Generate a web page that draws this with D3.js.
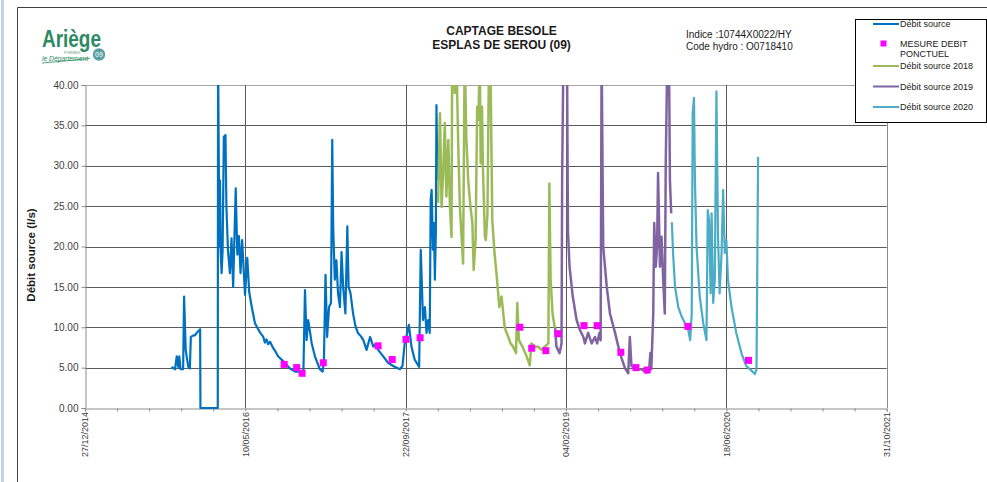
<!DOCTYPE html>
<html>
<head>
<meta charset="utf-8">
<script src="https://cdn.jsdelivr.net/npm/d3@7"></script>
<style>
body { margin: 0; background: #fff; }
svg text { font-family: "Liberation Sans", Arial, sans-serif; }
</style>
</head>
<body>
<svg id="chart" width="987" height="482"></svg>
<script>
// axis range and ticks
const xStart = "2014-12-27", xEnd = "2021-10-31";
const xTickDates = ["2014-12-27", "2016-05-10", "2017-09-22", "2019-02-04", "2020-06-18", "2021-10-31"];
const yTicks = [0, 5, 10, 15, 20, 25, 30, 35, 40];

// Débit source (l/s) - values above 40 leave the plot at the top
const debitSource = [
  ["2015-09-23", 5.1], ["2015-10-04", 4.8], ["2015-10-09", 6.4], ["2015-10-14", 5.1], ["2015-10-17", 6.4],
  ["2015-10-21", 4.8], ["2015-10-29", 4.8], ["2015-11-01", 13.8], ["2015-11-06", 7.2], ["2015-11-14", 5.1],
  ["2015-11-19", 4.9], ["2015-11-22", 8.8], ["2015-11-30", 9.0], ["2015-12-05", 9.0], ["2015-12-10", 9.3],
  ["2015-12-21", 9.75], ["2015-12-22", 0], ["2016-02-14", 0], ["2016-02-15", 44], ["2016-02-19", 20.0],
  ["2016-02-21", 28.2], ["2016-02-23", 19.4], ["2016-02-26", 16.7], ["2016-02-29", 19.4], ["2016-03-04", 33.6],
  ["2016-03-09", 33.8], ["2016-03-12", 24.9], ["2016-03-17", 19.4], ["2016-03-23", 16.7], ["2016-03-28", 21.0],
  ["2016-04-02", 15.0], ["2016-04-10", 27.2], ["2016-04-15", 19.0], ["2016-04-20", 21.3], ["2016-04-25", 16.7],
  ["2016-04-30", 20.8], ["2016-05-09", 14.0], ["2016-05-16", 18.6], ["2016-05-22", 14.4], ["2016-05-30", 12.5],
  ["2016-06-09", 10.5], ["2016-06-17", 9.9], ["2016-06-24", 9.4], ["2016-07-05", 8.8], ["2016-07-10", 8.1],
  ["2016-07-15", 8.5], ["2016-07-20", 7.9], ["2016-07-26", 8.2], ["2016-08-05", 7.4], ["2016-08-12", 7.0],
  ["2016-08-20", 6.4], ["2016-09-05", 5.8], ["2016-09-26", 4.9], ["2016-10-12", 4.5], ["2016-10-27", 4.5],
  ["2016-11-07", 4.3], ["2016-11-12", 14.6], ["2016-11-17", 8.4], ["2016-11-22", 10.9], ["2016-12-03", 8.0],
  ["2016-12-13", 6.4], ["2016-12-28", 4.8], ["2017-01-06", 4.5], ["2017-01-10", 5.8], ["2017-01-15", 16.5],
  ["2017-01-20", 8.8], ["2017-01-26", 12.5], ["2017-02-01", 13.0], ["2017-02-05", 33.2], ["2017-02-08", 22.3],
  ["2017-02-13", 15.9], ["2017-02-18", 18.3], ["2017-02-23", 14.2], ["2017-03-01", 12.5], ["2017-03-06", 19.3],
  ["2017-03-11", 15.0], ["2017-03-18", 11.7], ["2017-03-24", 22.5], ["2017-03-28", 15.0], ["2017-04-03", 14.2],
  ["2017-04-11", 11.7], ["2017-04-18", 10.2], ["2017-04-26", 9.3], ["2017-05-05", 8.9], ["2017-05-13", 8.4],
  ["2017-05-23", 7.2], ["2017-06-03", 8.8], ["2017-06-13", 7.6], ["2017-06-20", 7.9], ["2017-06-28", 7.2],
  ["2017-07-06", 6.8], ["2017-07-14", 6.4], ["2017-07-29", 5.6], ["2017-08-14", 5.2], ["2017-09-04", 4.8],
  ["2017-09-12", 5.2], ["2017-09-19", 8.0], ["2017-09-24", 8.8], ["2017-10-02", 10.3], ["2017-10-10", 7.6],
  ["2017-10-20", 6.0], ["2017-11-03", 5.1], ["2017-11-08", 19.6], ["2017-11-15", 10.9], ["2017-11-21", 12.5],
  ["2017-11-26", 9.3], ["2017-12-01", 10.9], ["2017-12-06", 9.3], ["2017-12-09", 25.8], ["2017-12-12", 27.0],
  ["2017-12-16", 19.6], ["2017-12-19", 22.9], ["2017-12-22", 15.9], ["2017-12-25", 21.6], ["2017-12-27", 37.5],
  ["2017-12-30", 28.2]
];

const debit2018 = [
  ["2018-01-01", 25.4], ["2018-01-07", 36.5], ["2018-01-12", 24.9], ["2018-01-17", 29.1], ["2018-01-22", 35.3],
  ["2018-01-27", 26.2], ["2018-02-02", 33.2], ["2018-02-07", 24.9], ["2018-02-12", 21.2], ["2018-02-14", 44],
  ["2018-02-19", 44], ["2018-02-22", 39.0], ["2018-02-27", 44], ["2018-03-05", 32.4], ["2018-03-10", 24.9],
  ["2018-03-20", 17.9], ["2018-03-25", 44], ["2018-03-30", 33.6], ["2018-04-05", 28.2], ["2018-04-12", 24.9],
  ["2018-04-18", 22.9], ["2018-04-22", 17.1], ["2018-04-28", 20.8], ["2018-05-03", 37.3], ["2018-05-07", 35.7],
  ["2018-05-11", 44], ["2018-05-14", 30.3], ["2018-05-18", 37.3], ["2018-05-21", 29.5], ["2018-05-27", 21.2],
  ["2018-05-30", 20.8], ["2018-06-04", 24.1], ["2018-06-09", 44], ["2018-06-13", 44], ["2018-06-19", 23.3],
  ["2018-06-26", 19.2], ["2018-07-03", 16.3], ["2018-07-11", 12.5], ["2018-07-18", 13.8], ["2018-07-28", 9.9],
  ["2018-08-08", 8.8], ["2018-08-15", 8.0], ["2018-08-23", 7.6], ["2018-09-01", 6.8], ["2018-09-05", 13.0],
  ["2018-09-10", 8.4], ["2018-09-21", 7.6], ["2018-10-04", 6.4], ["2018-10-14", 5.3], ["2018-10-19", 8.0],
  ["2018-10-30", 7.6], ["2018-11-09", 7.6], ["2018-11-19", 7.2], ["2018-11-30", 7.6], ["2018-12-11", 8.0],
  ["2018-12-14", 27.8], ["2018-12-18", 15.9], ["2018-12-24", 11.7], ["2018-12-31", 9.9]
];

const debit2019 = [
  ["2019-01-01", 9.9], ["2019-01-05", 7.6], ["2019-01-15", 6.8], ["2019-01-21", 8.0], ["2019-01-23", 29.1],
  ["2019-01-27", 44], ["2019-02-03", 44], ["2019-02-07", 44], ["2019-02-10", 22.0], ["2019-02-15", 17.5],
  ["2019-02-25", 13.8], ["2019-03-09", 10.9], ["2019-03-19", 9.7], ["2019-03-30", 8.8], ["2019-04-04", 8.0],
  ["2019-04-14", 9.3], ["2019-04-25", 8.0], ["2019-05-05", 8.8], ["2019-05-12", 8.0], ["2019-05-19", 9.3],
  ["2019-05-23", 8.4], ["2019-05-26", 44], ["2019-05-31", 20.0], ["2019-06-11", 15.0], ["2019-06-21", 11.7],
  ["2019-07-07", 9.3], ["2019-07-22", 6.8], ["2019-08-07", 4.9], ["2019-08-17", 4.3], ["2019-08-22", 8.8],
  ["2019-08-27", 5.2], ["2019-09-12", 4.8], ["2019-09-27", 4.8], ["2019-10-13", 4.4], ["2019-10-21", 4.6],
  ["2019-10-25", 6.8], ["2019-10-28", 4.8], ["2019-11-03", 11.7], ["2019-11-06", 22.9], ["2019-11-11", 17.5],
  ["2019-11-15", 20.0], ["2019-11-18", 29.1], ["2019-11-24", 17.5], ["2019-11-29", 21.2], ["2019-12-04", 15.9],
  ["2019-12-09", 11.7], ["2019-12-12", 30.3], ["2019-12-17", 44], ["2019-12-22", 44], ["2019-12-25", 28.2],
  ["2019-12-29", 24.1]
];

const debit2020 = [
  ["2019-12-31", 23.0], ["2020-01-04", 19.0], ["2020-01-10", 15.0], ["2020-01-20", 12.5], ["2020-01-31", 11.3],
  ["2020-02-10", 10.5], ["2020-02-20", 9.7], ["2020-02-26", 8.4], ["2020-03-02", 11.7], ["2020-03-05", 36.5],
  ["2020-03-09", 38.4], ["2020-03-12", 28.2], ["2020-03-17", 20.0], ["2020-03-27", 13.8], ["2020-04-07", 10.5],
  ["2020-04-17", 8.4], ["2020-04-21", 24.5], ["2020-04-25", 23.3], ["2020-04-30", 14.2], ["2020-05-03", 24.1],
  ["2020-05-08", 13.0], ["2020-05-13", 15.9], ["2020-05-18", 39.2], ["2020-05-23", 21.2], ["2020-05-28", 14.2],
  ["2020-06-03", 19.2], ["2020-06-08", 27.0], ["2020-06-13", 19.2], ["2020-06-18", 20.8], ["2020-06-23", 15.9],
  ["2020-07-04", 12.5], ["2020-07-19", 9.3], ["2020-08-04", 6.8], ["2020-08-19", 5.2], ["2020-09-05", 4.6],
  ["2020-09-15", 4.2], ["2020-09-20", 4.8], ["2020-09-25", 31.1]
];

// MESURE DEBIT PONCTUEL
const mesures = [
  ["2016-09-08", 5.4], ["2016-10-17", 5.0], ["2016-11-03", 4.3], ["2017-01-08", 5.6], ["2017-06-28", 7.7],
  ["2017-08-11", 6.0], ["2017-09-23", 8.5], ["2017-11-06", 8.7], ["2018-09-13", 10.0], ["2018-10-20", 7.4],
  ["2018-12-03", 7.1], ["2019-01-10", 9.2], ["2019-04-01", 10.2], ["2019-05-12", 10.2], ["2019-07-25", 6.9],
  ["2019-09-10", 5.0], ["2019-10-15", 4.7], ["2020-02-19", 10.1], ["2020-08-26", 5.9]
];

const series = [
  { name: "Débit source", data: debitSource, color: "#0070c0", width: 2.2 },
  { name: "Débit source 2018", data: debit2018, color: "#9bbb59", width: 2.5 },
  { name: "Débit source 2019", data: debit2019, color: "#8064a2", width: 2.5 },
  { name: "Débit source 2020", data: debit2020, color: "#4bacc6", width: 2.2 }
];

const svg = d3.select("#chart");
const parse = d3.timeParse("%Y-%m-%d");
const fmt = d3.timeFormat("%d/%m/%Y");

const plot = { left: 85, right: 886.7, top: 85, bottom: 408 };

const x = d3.scaleTime()
    .domain([parse(xStart), parse(xEnd)])
    .range([plot.left, plot.right]);
const y = d3.scaleLinear()
    .domain([0, 40])
    .range([plot.bottom, plot.top]);

// sheet decoration: light blue strip and chart frame
svg.append("rect").attr("x", 1).attr("y", 0).attr("width", 3).attr("height", 482).attr("fill", "#c3d3e8");
svg.append("path")
    .attr("d", "M17.5,482 V7.5 H987")
    .attr("fill", "none").attr("stroke", "#404040").attr("stroke-width", 1);

// logo
const logo = svg.append("g").attr("class", "logo");
logo.append("text").attr("x", 42).attr("y", 46.5)
    .attr("textLength", 59).attr("lengthAdjust", "spacingAndGlyphs")
    .style("font-size", "24px").style("font-weight", "bold").attr("fill", "#2d8a62")
    .text("Ariège");
logo.append("text").attr("x", 64).attr("y", 53.5)
    .style("font-size", "3px").attr("fill", "#6a9c86").text("PYRÉNÉES");
logo.append("text").attr("x", 42).attr("y", 61)
    .attr("textLength", 46).attr("lengthAdjust", "spacingAndGlyphs")
    .style("font-size", "7.5px").style("font-style", "italic").attr("fill", "#2d8a62")
    .text("le Département");
logo.append("path").attr("d", "M42,63 Q66,61 90,58.5")
    .attr("fill", "none").attr("stroke", "#2d8a62").attr("stroke-width", 0.8);
logo.append("circle").attr("cx", 99).attr("cy", 54.5).attr("r", 6.2).attr("fill", "#5b9fa6");
logo.append("text").attr("x", 99).attr("y", 57.2).attr("text-anchor", "middle")
    .style("font-size", "7px").attr("fill", "#fff").text("09");

// titles
svg.append("text").attr("x", 501.5).attr("y", 35).attr("text-anchor", "middle")
    .style("font-size", "12px").style("font-weight", "bold").attr("fill", "#1a1a1a")
    .text("CAPTAGE BESOLE");
svg.append("text").attr("x", 501.5).attr("y", 49).attr("text-anchor", "middle")
    .style("font-size", "12px").style("font-weight", "bold").attr("fill", "#1a1a1a")
    .text("ESPLAS DE SEROU (09)");
svg.append("text").attr("x", 686).attr("y", 38)
    .style("font-size", "10px").attr("fill", "#1a1a1a").text("Indice :10744X0022/HY");
svg.append("text").attr("x", 686).attr("y", 50)
    .style("font-size", "10px").attr("fill", "#1a1a1a").text("Code hydro : O0718410");

// grid
const grid = svg.append("g").attr("class", "grid");
grid.selectAll("line.h")
    .data(yTicks.filter(d => d > 0))
    .enter().append("line")
    .attr("class", "h")
    .attr("x1", plot.left).attr("x2", plot.right)
    .attr("y1", d => Math.round(y(d)) + 0.5).attr("y2", d => Math.round(y(d)) + 0.5)
    .attr("stroke", d => d === 40 ? "#a6a6a6" : "#5a5a5a").attr("stroke-width", 1);
grid.selectAll("line.v")
    .data(xTickDates.slice(1).map(parse))
    .enter().append("line")
    .attr("class", "v")
    .attr("x1", d => Math.round(x(d)) + 0.5).attr("x2", d => Math.round(x(d)) + 0.5)
    .attr("y1", plot.top).attr("y2", plot.bottom)
    .attr("stroke", d => +d === +parse(xEnd) ? "#8c8c8c" : "#5a5a5a").attr("stroke-width", 1);

// y axis
const yAxis = svg.append("g")
    .attr("transform", `translate(${plot.left + 0.5},0)`)
    .call(d3.axisLeft(y).tickValues(yTicks).tickFormat(d3.format(".2f")).tickSize(4).tickPadding(3));
yAxis.select(".domain").attr("stroke", "#8c8c8c");
yAxis.selectAll(".tick line").attr("stroke", "#8c8c8c");
yAxis.selectAll(".tick text").attr("fill", "#404040")
    .style("font-size", "10px").style("font-family", "'Liberation Sans', Arial, sans-serif");

// x axis with a tick every 100 days
const minorTicks = d3.range(0, 2501, 100).map(d => d3.timeDay.offset(parse(xStart), d));
const xAxis = svg.append("g")
    .attr("transform", `translate(0,${plot.bottom + 0.5})`)
    .call(d3.axisBottom(x).tickValues(minorTicks).tickSize(3).tickFormat(""));
xAxis.select(".domain").attr("stroke", "#8c8c8c");
xAxis.selectAll(".tick line").attr("stroke", "#8c8c8c");

svg.append("g").selectAll("text")
    .data(xTickDates.map(parse))
    .enter().append("text")
    .attr("transform", d => `translate(${x(d) + 3.3},${plot.bottom + 4}) rotate(-90)`)
    .attr("text-anchor", "end")
    .style("font-size", "9px").attr("fill", "#404040")
    .text(d => fmt(d));

// y axis title
svg.append("text")
    .attr("transform", "translate(35,255) rotate(-90)")
    .attr("text-anchor", "middle")
    .style("font-size", "11.5px").style("font-weight", "bold").attr("fill", "#1a1a1a")
    .text("Débit source (l/s)");

// clip for values above 40
svg.append("clipPath").attr("id", "plot-clip")
    .append("rect")
    .attr("x", plot.left).attr("y", plot.top)
    .attr("width", plot.right - plot.left).attr("height", plot.bottom - plot.top + 2);

const line = d3.line()
    .x(d => x(parse(d[0])))
    .y(d => y(d[1]));

svg.append("g").attr("clip-path", "url(#plot-clip)")
    .selectAll("path")
    .data(series)
    .enter().append("path")
    .attr("d", d => line(d.data))
    .attr("fill", "none")
    .attr("stroke", d => d.color)
    .attr("stroke-width", d => d.width)
    .attr("stroke-linejoin", "round");

// point measurements
const sq = 7;
svg.append("g").selectAll("rect")
    .data(mesures)
    .enter().append("rect")
    .attr("x", d => x(parse(d[0])) - sq / 2)
    .attr("y", d => y(d[1]) - sq / 2)
    .attr("width", sq).attr("height", sq)
    .attr("fill", "#ff00ff");

// legend
const legend = svg.append("g").attr("class", "legend");
legend.append("rect")
    .attr("x", 855.5).attr("y", 19.5).attr("width", 131).attr("height", 103)
    .attr("fill", "#fff").attr("stroke", "#000").attr("stroke-width", 1);

const legendRows = [
  { s: series[0], y: 24 },
  { s: series[1], y: 66 },
  { s: series[2], y: 86.5 },
  { s: series[3], y: 107 }
];
legendRows.forEach(r => {
  legend.append("line")
      .attr("x1", 873).attr("x2", 899).attr("y1", r.y).attr("y2", r.y)
      .attr("stroke", r.s.color).attr("stroke-width", 2);
  legend.append("text").attr("x", 900).attr("y", r.y + 3)
      .style("font-size", "9px").attr("fill", "#1a1a1a").text(r.s.name);
});
legend.append("rect").attr("x", 880.5).attr("y", 40.5).attr("width", 6).attr("height", 6).attr("fill", "#ff00ff");
legend.append("text").attr("x", 900).attr("y", 47)
    .style("font-size", "9px").attr("fill", "#1a1a1a").text("MESURE DEBIT");
legend.append("text").attr("x", 900).attr("y", 57)
    .style("font-size", "9px").attr("fill", "#1a1a1a").text("PONCTUEL");
</script>
</body>
</html>
